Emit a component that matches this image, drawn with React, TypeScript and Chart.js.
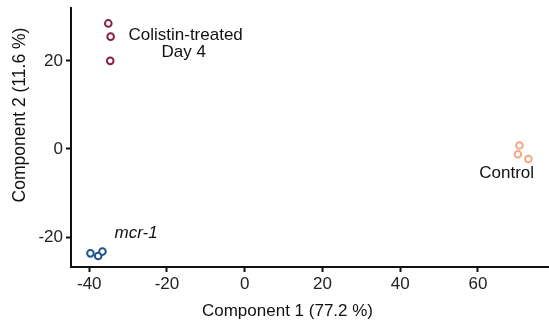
import React, { useEffect, useRef } from "react";
import { Chart, registerables } from "chart.js";
Chart.register(...registerables);

const colistinX = [-35.1, -34.5, -34.6];
const colistinY = [28.5, 25.5, 20.0];
const mcrX = [-39.7, -37.7, -36.6];
const mcrY = [-23.7, -24.3, -23.3];
const controlX = [70.7, 70.3, 73.0];
const controlY = [0.8, -1.2, -2.3];
const xTicks = [-40, -20, 0, 20, 40, 60];
const yTicks = [-20, 0, 20];
const xTitle = "Component 1 (77.2 %)";
const yTitle = "Component 2 (11.6 %)";

const FONT = "'Liberation Sans', Arial, sans-serif";

const pts = (xs: number[], ys: number[]) => xs.map((x, i) => ({ x, y: ys[i] }));

const labelPlugin = {
  id: "labels",
  afterDraw(chart: any) {
    const { ctx, scales } = chart;
    const xs = scales.x, ys = scales.y;
    ctx.save();
    ctx.fillStyle = "#111";
    ctx.textBaseline = "middle";
    ctx.font = `17px ${FONT}`;
    ctx.textAlign = "center";
    ctx.fillText("Colistin-treated", xs.getPixelForValue(-15.2), ys.getPixelForValue(25.9));
    ctx.fillText("Day 4", xs.getPixelForValue(-15.7), ys.getPixelForValue(22.0));
    ctx.fillText("Control", xs.getPixelForValue(67.4), ys.getPixelForValue(-5.5));
    ctx.textAlign = "left";
    ctx.font = `italic 17px ${FONT}`;
    ctx.fillText("mcr-1", xs.getPixelForValue(-33.5), ys.getPixelForValue(-19.1));
    // axis titles
    ctx.font = `17px ${FONT}`;
    ctx.textAlign = "center";
    ctx.fillText(xTitle, 287.5, 311.5);
    ctx.translate(20, 115);
    ctx.rotate(-Math.PI / 2);
    ctx.font = `17.5px ${FONT}`;
    ctx.fillText(yTitle, 0, 0);
    ctx.restore();
  },
};

export default function App() {
  const ref = useRef<HTMLCanvasElement>(null);
  useEffect(() => {
    const ds = (data: any, color: string) => ({
      data,
      borderColor: color,
      backgroundColor: "#ffffff",
      pointRadius: 3.3,
      pointBorderWidth: 2,
      pointHoverRadius: 3.3,
    });
    const chart = new Chart(ref.current!, {
      type: "scatter",
      data: {
        datasets: [
          ds(pts(colistinX, colistinY), "#8b1e48"),
          ds(pts(mcrX, mcrY), "#1d5690"),
          ds(pts(controlX, controlY), "#f0a886"),
        ],
      },
      options: {
        animation: false,
        responsive: false,
        layout: { autoPadding: false, padding: { top: 8, right: 0, left: 0, bottom: 0 } },
        plugins: { legend: { display: false }, tooltip: { enabled: false } },
        scales: {
          x: {
            type: "linear",
            min: -44.7,
            max: 78.3,
            afterBuildTicks: (s: any) => { s.ticks = xTicks.map((v) => ({ value: v })); },
            afterFit: (s: any) => { s.height = 57; s.paddingLeft = 0; s.paddingRight = 0; },
            grid: { drawOnChartArea: false, drawTicks: true, tickLength: 5, tickColor: "#111", tickWidth: 2 },
            border: { display: true, color: "#111", width: 2 },
            ticks: { color: "#222", font: { family: FONT, size: 17 }, padding: 2, maxRotation: 0 },
          },
          y: {
            type: "linear",
            min: -26.8,
            max: 32,
            afterBuildTicks: (s: any) => { s.ticks = yTicks.map((v) => ({ value: v })); },
            afterFit: (s: any) => { s.width = 71; s.paddingTop = 0; s.paddingBottom = 0; },
            grid: { drawOnChartArea: false, drawTicks: true, tickLength: 5, tickColor: "#111", tickWidth: 2 },
            border: { display: true, color: "#111", width: 2 },
            ticks: { color: "#222", font: { family: FONT, size: 17 }, padding: 3 },
          },
        },
      },
      plugins: [labelPlugin],
    } as any);
    return () => chart.destroy();
  }, []);
  return (
    <div style={{ position: "fixed", left: 0, top: 0, width: 549, height: 324, background: "#fff" }}>
      <canvas ref={ref} width={549} height={324} style={{ width: 549, height: 324 }} />
    </div>
  );
}
